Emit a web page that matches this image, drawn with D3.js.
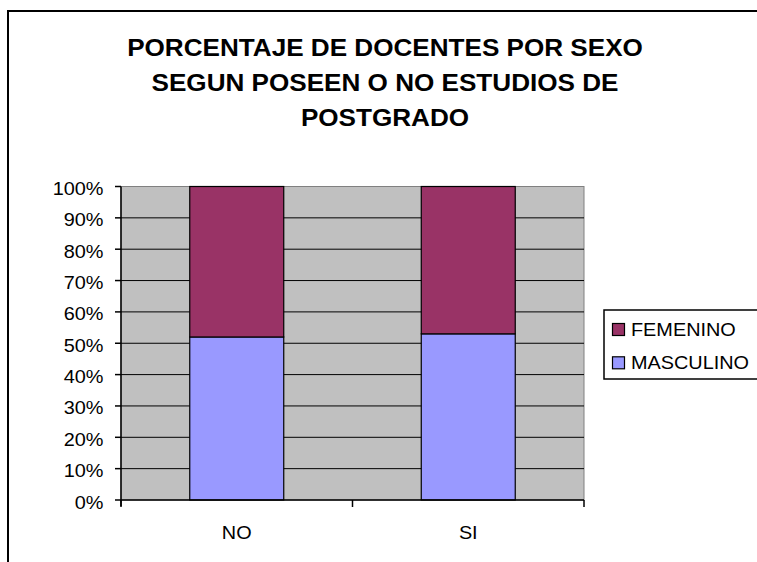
<!DOCTYPE html>
<html>
<head>
<meta charset="utf-8">
<script src="https://cdn.jsdelivr.net/npm/d3@7"></script>
<style>
  html, body { margin: 0; padding: 0; background: #fff; }
  svg { display: block; }
  text { font-family: "Liberation Sans", Arial, Helvetica, sans-serif; fill: #000; }
</style>
</head>
<body>
<svg id="chart" width="757" height="562"></svg>
<script>
// Data
const categories = ["NO", "SI"];
const seriesNames = ["MASCULINO", "FEMENINO"];
const masculino = [52, 53];
const femenino = [48, 47];
const yTicks = [0, 10, 20, 30, 40, 50, 60, 70, 80, 90, 100];
const titleLines = [
  "PORCENTAJE DE DOCENTES POR SEXO",
  "SEGUN POSEEN O NO ESTUDIOS DE",
  "POSTGRADO"
];
const colors = { MASCULINO: "#9999FF", FEMENINO: "#993366" };

const rows = categories.map((c, i) => ({ cat: c, MASCULINO: masculino[i], FEMENINO: femenino[i] }));

const svg = d3.select("#chart");
const SX = 1.135; // horizontal text stretch

function label(g, px, py, str, opts = {}) {
  return g.append("text")
    .attr("transform", `translate(${px},${py}) scale(${SX},1)`)
    .attr("text-anchor", opts.anchor || "start")
    .attr("font-size", opts.size || 17.5)
    .attr("font-weight", opts.weight || "normal")
    .text(str);
}

// Outer chart frame
svg.append("rect")
  .attr("x", 8).attr("y", 11)
  .attr("width", 780).attr("height", 600)
  .attr("fill", "none").attr("stroke", "#000").attr("stroke-width", 2);

// Title
titleLines.forEach((t, i) => label(svg, 385, 56 + i * 35, t, { anchor: "middle", size: 23, weight: "bold" }));

// Plot area
const plotL = 121, plotR = 584, plotT = 186.5, plotB = 500;
const x = d3.scaleBand().domain(categories).range([plotL, plotR]).paddingInner(0.594).paddingOuter(0.297);
const y = d3.scaleLinear().domain([0, 100]).range([plotB, plotT]);

svg.append("rect")
  .attr("x", plotL).attr("y", plotT)
  .attr("width", plotR - plotL).attr("height", plotB - plotT)
  .attr("fill", "#C0C0C0").attr("stroke", "#808080").attr("stroke-width", 1);

// Gridlines
svg.append("g").selectAll("line")
  .data(yTicks.filter(d => d > 0 && d < 100))
  .join("line")
  .attr("x1", plotL).attr("x2", plotR)
  .attr("y1", d => y(d)).attr("y2", d => y(d))
  .attr("stroke", "#000").attr("stroke-width", 1);

// Stacked bars
const stack = d3.stack().keys(seriesNames)(rows);
svg.append("g").selectAll("g")
  .data(stack)
  .join("g")
  .attr("fill", d => colors[d.key])
  .selectAll("rect")
  .data(d => d)
  .join("rect")
  .attr("x", d => x(d.data.cat))
  .attr("width", x.bandwidth())
  .attr("y", d => y(d[1]))
  .attr("height", d => y(d[0]) - y(d[1]))
  .attr("stroke", "#000").attr("stroke-width", 1.2);

// Y axis
const yAxis = svg.append("g");
yAxis.append("line")
  .attr("x1", plotL).attr("x2", plotL).attr("y1", plotT).attr("y2", plotB + 6)
  .attr("stroke", "#000").attr("stroke-width", 1.5);
yTicks.forEach(t => {
  yAxis.append("line")
    .attr("x1", plotL - 6).attr("x2", plotL).attr("y1", y(t)).attr("y2", y(t))
    .attr("stroke", "#000").attr("stroke-width", 1.5);
  label(yAxis, 103.5, y(t) + 8.5, t + "%", { anchor: "end" });
});

// X axis
const xAxis = svg.append("g");
xAxis.append("line")
  .attr("x1", plotL).attr("x2", plotR).attr("y1", plotB).attr("y2", plotB)
  .attr("stroke", "#000").attr("stroke-width", 1.5);
const step = x.step();
[plotL, plotL + step, plotR].forEach(px => {
  xAxis.append("line")
    .attr("x1", px).attr("x2", px).attr("y1", plotB).attr("y2", plotB + 7)
    .attr("stroke", "#000").attr("stroke-width", 1.5);
});
categories.forEach(c => label(xAxis, x(c) + x.bandwidth() / 2, 538.5, c, { anchor: "middle" }));

// Legend
const legend = svg.append("g");
legend.append("rect")
  .attr("x", 604).attr("y", 310).attr("width", 200).attr("height", 69)
  .attr("fill", "#fff").attr("stroke", "#000").attr("stroke-width", 1.5);
["FEMENINO", "MASCULINO"].forEach((k, i) => {
  const by = 336 + i * 33.3;
  legend.append("rect")
    .attr("x", 612.5).attr("y", by - 12.5).attr("width", 12).attr("height", 12)
    .attr("fill", colors[k]).attr("stroke", "#000").attr("stroke-width", 1.2);
  label(legend, 631, by, k);
});
</script>
</body>
</html>
